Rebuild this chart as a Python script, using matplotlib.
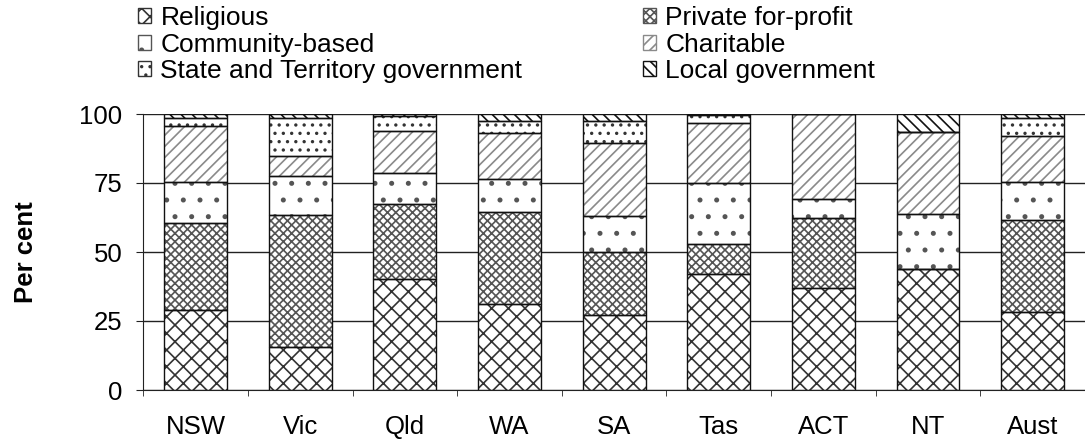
import numpy as np
import matplotlib
matplotlib.use('Agg')
import matplotlib.pyplot as plt
from matplotlib.patches import Patch

plt.rcParams['font.family'] = ['Liberation Sans', 'DejaVu Sans']
plt.rcParams['hatch.linewidth'] = 1.2

# Data (per cent)
states = ['NSW', 'Vic', 'Qld', 'WA', 'SA', 'Tas', 'ACT', 'NT', 'Aust']
religious = [29.0, 15.7, 40.1, 31.0, 27.2, 41.9, 36.8, 43.7, 28.1]
private = [31.4, 47.7, 27.2, 33.4, 22.7, 11.0, 25.4, 0.0, 33.5]
community = [14.8, 14.1, 11.2, 12.0, 13.0, 22.0, 7.0, 19.9, 13.6]
charitable = [20.6, 7.3, 15.3, 16.8, 26.7, 21.7, 30.8, 29.7, 17.0]
state_gov = [2.6, 13.6, 5.6, 4.4, 7.9, 3.2, 0.0, 0.0, 6.2]
local_gov = [1.6, 1.6, 0.6, 2.4, 2.5, 0.2, 0.0, 6.7, 1.6]

series = [religious, private, community, charitable, state_gov, local_gov]
labels = ['Religious', 'Private for-profit', 'Community-based', 'Charitable',
          'State and Territory government', 'Local government']
hatches = ['xx', 'xxxx', '.', '///', '..', '\\\\\\']
hatch_colors = ['#333333', '#555555', '#555555', '#8a8a8a', '#333333', '#111111']

fs = 18.5

fig = plt.figure(figsize=(10.85, 4.42), dpi=100)
ax = fig.add_axes([143.3 / 1085, 52 / 442, (1085 - 143.3) / 1085, 276 / 442])

x = np.arange(len(states))
bottom = np.zeros(len(states))
for vals, h, hc in zip(series, hatches, hatch_colors):
    vals = np.array(vals)
    ax.bar(x, vals, 0.6, bottom=bottom, color='white', edgecolor=hc,
           hatch=h, linewidth=0, zorder=2)
    ax.bar(x, vals, 0.6, bottom=bottom, fill=False, edgecolor='#111111',
           linewidth=1.0, zorder=3)
    bottom += vals

ax.set_xlim(-0.5, 8.47)
ax.set_ylim(0, 100)
ax.set_yticks([0, 25, 50, 75, 100])
ax.yaxis.grid(True, color='#222222', linewidth=1.0, zorder=0)
ax.set_axisbelow(True)
for s in ['top', 'right']:
    ax.spines[s].set_visible(False)
ax.spines['left'].set_color('#222222')
ax.spines['bottom'].set_color('#222222')

ax.set_xticks(x)
ax.set_xticklabels(states, fontsize=fs)
ax.set_xticks(np.arange(-0.5, 9, 1.0), minor=True)
ax.tick_params(axis='x', which='major', length=0, pad=18)
ax.tick_params(axis='x', which='minor', length=4.5, direction='out', color='#222222')
ax.tick_params(axis='y', length=5, direction='out', labelsize=fs, pad=10, color='#222222')
ax.set_ylabel('Per cent', fontsize=fs, fontweight='bold')
ax.yaxis.set_label_coords(-0.112, 0.5)

handles = [Patch(facecolor='white', edgecolor=hc, hatch=h, linewidth=1)
           for h, hc in zip(hatches, hatch_colors)]

leg_kw = dict(frameon=False, fontsize=19, handlelength=0.5, handleheight=0.5,
              handletextpad=0.35, labelspacing=0.1, borderpad=0, borderaxespad=0,
              loc='upper left')
fig.legend([handles[0], handles[2], handles[4]], [labels[0], labels[2], labels[4]],
           bbox_to_anchor=(138 / 1085, 1 - 6 / 442), **leg_kw)
fig.legend([handles[1], handles[3], handles[5]], [labels[1], labels[3], labels[5]],
           bbox_to_anchor=(643 / 1085, 1 - 6 / 442), **leg_kw)

fig.savefig('out.png', dpi=100)
